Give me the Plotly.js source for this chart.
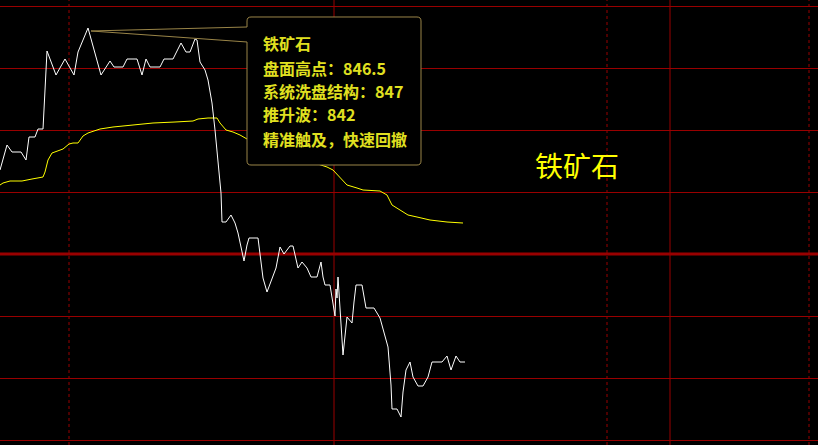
<!DOCTYPE html>
<html>
<head>
<meta charset="utf-8">
<script src="https://cdn.plot.ly/plotly-3.0.1.min.js"></script>
<style>html,body{margin:0;padding:0;background:#000;}#chart{width:818px;height:445px;}</style>
</head>
<body>
<div id="chart"></div>
<script>
// ---- data ----
var priceTime = [0,7,12,21,26,29,35,38,43,45,47,56,65,74,78,88,101,110,114,123,127,137,142,146,150,160,164,173,181,186,190,195,197,200,205,208,212,215,218,221,222,226,231,235,238,242,244,247,249,258,261,263,267,272,276,280,284,290,293,298,302,307,311,317,321,323,325,330,333,335,336,337,338,340,343,347,352,354,356,362,366,374,380,388,391,392,397,401,403,406,410,413,418,423,428,432,442,447,451,456,460,465];
var priceValue = [832.4,834.9,834.2,834.2,833.4,835.7,835.7,836.5,836.5,840.7,844.3,841.9,843.5,841.9,844.2,846.6,841.9,843.3,842.7,842.7,843.5,843.5,841.9,843.5,842.7,842.7,843.5,843.5,845.1,844.2,844.2,845.5,845.4,843.2,842.4,841.4,839.1,836.4,833.1,830.1,827.2,827.2,827.9,827.1,826.1,824.4,823.3,824.9,825.6,825.6,823.2,821.6,820.2,821.6,822.6,824.7,824.0,824.8,824.8,822.6,823.2,822.6,821.7,821.7,823.2,821.7,820.9,820.9,819.2,817.8,820.5,819.6,821.7,818.4,813.9,817.7,817.1,819.2,820.9,820.9,818.6,818.6,817.6,814.7,810.9,808.5,808.5,807.7,810.2,812.4,813.2,811.7,810.8,810.8,811.7,813.2,813.2,813.8,812.4,813.8,813.2,813.2];
var avgTime = [0,3,10,22,32,37,43,45,48,52,57,63,69,73,78,80,83,88,95,100,113,132,153,175,193,198,208,217,220,226,233,240,247,290,327,333,340,347,357,363,380,387,392,400,408,417,430,447,463];
var avgValue = [830.9,831.1,831.3,831.3,831.5,831.6,831.7,832.2,833.4,834.1,834.3,834.5,835.0,835.1,835.1,835.4,835.8,836.1,836.3,836.5,836.7,836.9,837.1,837.2,837.3,837.5,837.6,837.6,837.1,836.4,836.2,835.9,835.5,833.9,832.7,832.4,831.6,830.9,830.6,830.4,830.3,829.9,828.9,828.4,827.9,827.7,827.4,827.2,827.1];
var refPrice = 824.0;          // previous settlement (thick line)
var sessionSolid = [334, 670];
var sessionDashed = [69, 607, 809];
var symbolName = "铁矿石";
var tipLines = ["铁矿石", "盘面高点：846.5", "系统洗盘结构：847", "推升波：842", "精准触及，快速回撤"];

// ---- layout helpers ----
var W = 818, H = 445;
function px(x){ return (x / W).toFixed(5); }
function py(y){ return (1 - y / H).toFixed(5); }
var red = "#990000";

var shapes = [];
sessionSolid.forEach(function(x){
  shapes.push({type:"line", xref:"x", yref:"paper", x0:x, x1:x, y0:0, y1:1, line:{color:red, width:1}, layer:"below"});
});
sessionDashed.forEach(function(x){
  shapes.push({type:"line", xref:"x", yref:"paper", x0:x, x1:x, y0:0, y1:1, line:{color:red, width:1, dash:"3px,3px"}, layer:"below"});
});
shapes.push({type:"line", xref:"paper", yref:"y", x0:0, x1:1, y0:refPrice, y1:refPrice, line:{color:red, width:3}, layer:"below"});

// tooltip box
var L = 247, R = 421, T = 17, B = 165, r = 4;
var boxFill = "M" + px(L + r) + "," + py(T) + " L" + px(R - r) + "," + py(T) +
  " Q" + px(R) + "," + py(T) + " " + px(R) + "," + py(T + r) +
  " L" + px(R) + "," + py(B - r) + " Q" + px(R) + "," + py(B) + " " + px(R - r) + "," + py(B) +
  " L" + px(L + r) + "," + py(B) + " Q" + px(L) + "," + py(B) + " " + px(L) + "," + py(B - r) +
  " L" + px(L) + "," + py(T + r) + " Q" + px(L) + "," + py(T) + " " + px(L + r) + "," + py(T) + " Z";
shapes.push({type:"path", xref:"paper", yref:"paper", path:boxFill, fillcolor:"#000000", line:{width:0}, layer:"above"});
var outline = "M" + px(L) + "," + py(27) + " L" + px(L) + "," + py(T + r) +
  " Q" + px(L) + "," + py(T) + " " + px(L + r) + "," + py(T) +
  " L" + px(R - r) + "," + py(T) + " Q" + px(R) + "," + py(T) + " " + px(R) + "," + py(T + r) +
  " L" + px(R) + "," + py(B - r) + " Q" + px(R) + "," + py(B) + " " + px(R - r) + "," + py(B) +
  " L" + px(L + r) + "," + py(B) + " Q" + px(L) + "," + py(B) + " " + px(L) + "," + py(B - r) +
  " L" + px(L) + "," + py(42) + " L" + px(91) + "," + py(31) + " L" + px(L) + "," + py(27);
shapes.push({type:"path", xref:"paper", yref:"paper", path:outline, fillcolor:"rgba(0,0,0,0)", line:{color:"#9a8548", width:1}, layer:"above"});

var annotations = [];
var tipY = [43, 68, 91, 114, 139];
tipLines.forEach(function(t, i){
  annotations.push({xref:"paper", yref:"paper", x:261/W, y:1 - tipY[i]/H, xanchor:"left", yanchor:"middle",
    text:"<b>" + t + "</b>", showarrow:false,
    font:{family:"Noto Sans CJK SC, sans-serif", size:16, color:"#e0e020"}});
});
annotations.push({xref:"paper", yref:"paper", x:577/W, y:1 - 165/H, xanchor:"center", yanchor:"middle",
  text:symbolName, showarrow:false, font:{family:"Noto Sans CJK SC, sans-serif", size:28, color:"#ffff00"}});

var traces = [
  {x:avgTime, y:avgValue, type:"scatter", mode:"lines", line:{color:"#ffff00", width:1}, hoverinfo:"skip"},
  {x:priceTime, y:priceValue, type:"scatter", mode:"lines", line:{color:"#ffffff", width:1}, hoverinfo:"skip"}
];

var layout = {
  width:W, height:H, margin:{l:0, r:0, t:0, b:0},
  paper_bgcolor:"#000000", plot_bgcolor:"#000000", showlegend:false,
  xaxis:{range:[0, W], showgrid:false, zeroline:false, showticklabels:false, ticks:"", fixedrange:true},
  yaxis:{range:[refPrice - (H - 254)/10, refPrice + 254/10], tick0:refPrice, dtick:6.2, showgrid:true,
         gridcolor:red, gridwidth:1, zeroline:false, showticklabels:false, ticks:"", fixedrange:true},
  shapes:shapes, annotations:annotations
};
Plotly.newPlot("chart", traces, layout, {staticPlot:true, displayModeBar:false});
</script>
</body>
</html>
